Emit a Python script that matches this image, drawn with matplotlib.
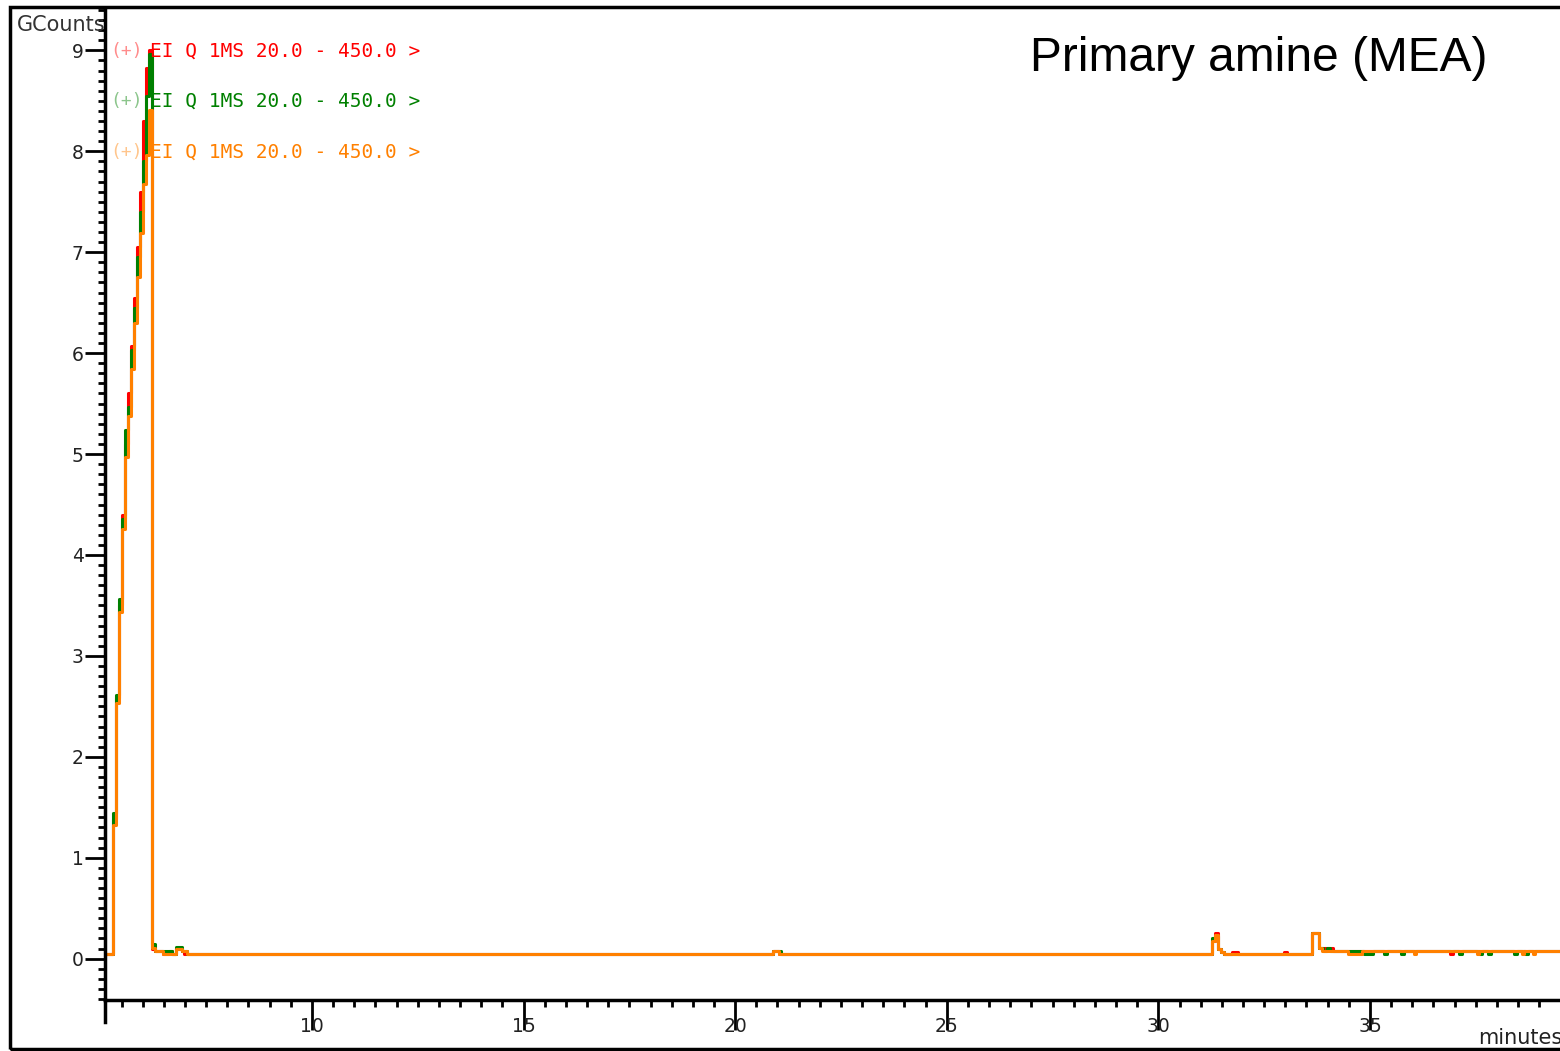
import numpy as np
import matplotlib.pyplot as plt
from matplotlib.patches import Rectangle
from matplotlib.ticker import MultipleLocator

# Data (minutes, counts x 1e6)
red_t = [5.00, 5.30, 5.37, 5.44, 5.51, 5.58, 5.65, 5.72, 5.79, 5.86, 5.93, 6.00, 6.07, 6.14,
         6.21, 6.29, 6.48, 6.62, 6.69, 6.79, 6.93, 6.98, 20.90, 21.04,
         31.26, 31.33, 31.40, 31.47, 31.54, 31.73, 31.87, 32.96, 33.03,
         33.64, 33.79, 34.12, 36.90, 36.97, 39.60]
red_v = [0.05, 1.38, 2.58, 3.50, 4.40, 5.10, 5.60, 6.07, 6.55, 7.05, 7.60, 8.30, 8.83, 9.00,
         0.10, 0.08, 0.05, 0.08, 0.05, 0.10, 0.08, 0.05, 0.08, 0.05,
         0.17, 0.25, 0.10, 0.07, 0.05, 0.07, 0.05, 0.07, 0.05,
         0.25, 0.11, 0.08, 0.05, 0.08, 0.08]

green_t = [5.00, 5.30, 5.37, 5.44, 5.51, 5.58, 5.65, 5.72, 5.79, 5.86, 5.93, 6.00, 6.07, 6.14,
           6.21, 6.29, 6.69, 6.79, 6.93, 7.05, 20.90, 21.08,
           31.26, 31.33, 31.40, 31.47, 31.54, 33.64, 33.79, 33.90, 33.98, 34.05,
           34.86, 35.07, 35.33, 35.40, 35.73, 35.80, 37.10, 37.17, 37.58, 37.65,
           37.79, 37.86, 38.40, 38.47, 38.66, 38.73, 39.60]
green_v = [0.05, 1.44, 2.61, 3.56, 4.36, 5.24, 5.47, 6.03, 6.45, 6.95, 7.40, 7.90, 8.55, 8.96,
           0.14, 0.08, 0.05, 0.12, 0.08, 0.05, 0.08, 0.05,
           0.20, 0.22, 0.10, 0.07, 0.05, 0.25, 0.11, 0.08, 0.11, 0.08,
           0.05, 0.08, 0.05, 0.08, 0.05, 0.08, 0.05, 0.08, 0.05, 0.08,
           0.05, 0.08, 0.05, 0.08, 0.05, 0.08, 0.08]

orange_t = [5.00, 5.30, 5.37, 5.44, 5.51, 5.58, 5.65, 5.72, 5.79, 5.86, 5.93, 6.00, 6.07, 6.14,
            6.21, 6.29, 6.48, 6.79, 6.93, 7.05, 20.90, 21.04,
            31.26, 31.33, 31.40, 31.47, 31.54, 33.64, 33.79, 33.86,
            34.47, 34.80, 36.03, 36.08, 37.52, 37.57, 38.60, 38.65, 38.85, 38.90, 39.60]
orange_v = [0.05, 1.32, 2.53, 3.43, 4.26, 4.97, 5.38, 5.84, 6.30, 6.75, 7.19, 7.68, 7.96, 8.41,
            0.11, 0.08, 0.05, 0.10, 0.08, 0.05, 0.08, 0.05,
            0.17, 0.23, 0.10, 0.07, 0.05, 0.25, 0.11, 0.08,
            0.05, 0.08, 0.05, 0.08, 0.05, 0.08, 0.05, 0.08, 0.05, 0.08, 0.08]

trace_label = 'EI Q 1MS 20.0 - 450.0 >'
W, H = 1560, 1051

fig = plt.figure(figsize=(W / 100, H / 100), dpi=100)
ax = fig.add_axes([105 / W, 51 / H, 1 - 105 / W, (1043 - 51) / H])

ax.step(red_t, red_v, where='post', color='#ff0000', linewidth=2.2)
ax.step(green_t, green_v, where='post', color='#008000', linewidth=2.2)
ax.step(orange_t, orange_v, where='post', color='#ff8000', linewidth=2.2)

ax.set_xlim(5.11, 39.49)
ax.set_ylim(-0.41, 9.42)

ax.xaxis.set_major_locator(MultipleLocator(5))
ax.xaxis.set_minor_locator(MultipleLocator(0.5))
ax.yaxis.set_major_locator(MultipleLocator(1))
ax.yaxis.set_minor_locator(MultipleLocator(0.1))

ax.tick_params(axis='x', which='major', length=21.6, width=2, pad=-9.4,
               labelsize=13.5, labelcolor='#222222')
ax.tick_params(axis='x', which='minor', length=5, width=2)
ax.tick_params(axis='y', which='major', length=14.4, width=2, pad=1,
               labelsize=13.5, labelcolor='#222222')
ax.tick_params(axis='y', which='minor', length=5, width=2)

for s in ['top', 'right']:
    ax.spines[s].set_visible(False)
for s in ['left', 'bottom']:
    ax.spines[s].set_linewidth(2.5)
ax.plot([0, 0], [0, -0.022], transform=ax.transAxes, color='black', linewidth=2.5,
        clip_on=False)

# trace labels
for y, c in zip([51, 101, 152], ['#ff0000', '#008000', '#ff8000']):
    fig.text(110 / W, 1 - y / H, '(+)', color=c, alpha=0.45, fontsize=13,
             family='DejaVu Sans Mono', va='center')
    fig.text(150 / W, 1 - y / H, trace_label, color=c, fontsize=14,
             family='DejaVu Sans Mono', va='center')

fig.text(17 / W, 1 - 25 / H, 'GCounts', fontsize=15, color='#333333', va='center')
fig.text(1478 / W, 1 - 1038 / H, 'minutes', fontsize=15, color='#222222', va='center')
fig.text(1030 / W, 1 - 71 / H, 'Primary amine (MEA)', fontsize=34.5,
         family='Liberation Sans', va='baseline')

# outer frame
fig.patches.append(Rectangle((10 / W, 2 / H), 1.0, (1044 - 2) / H, transform=fig.transFigure,
                             fill=False, edgecolor='black', linewidth=2.5))

plt.savefig('out.png', dpi=100)
